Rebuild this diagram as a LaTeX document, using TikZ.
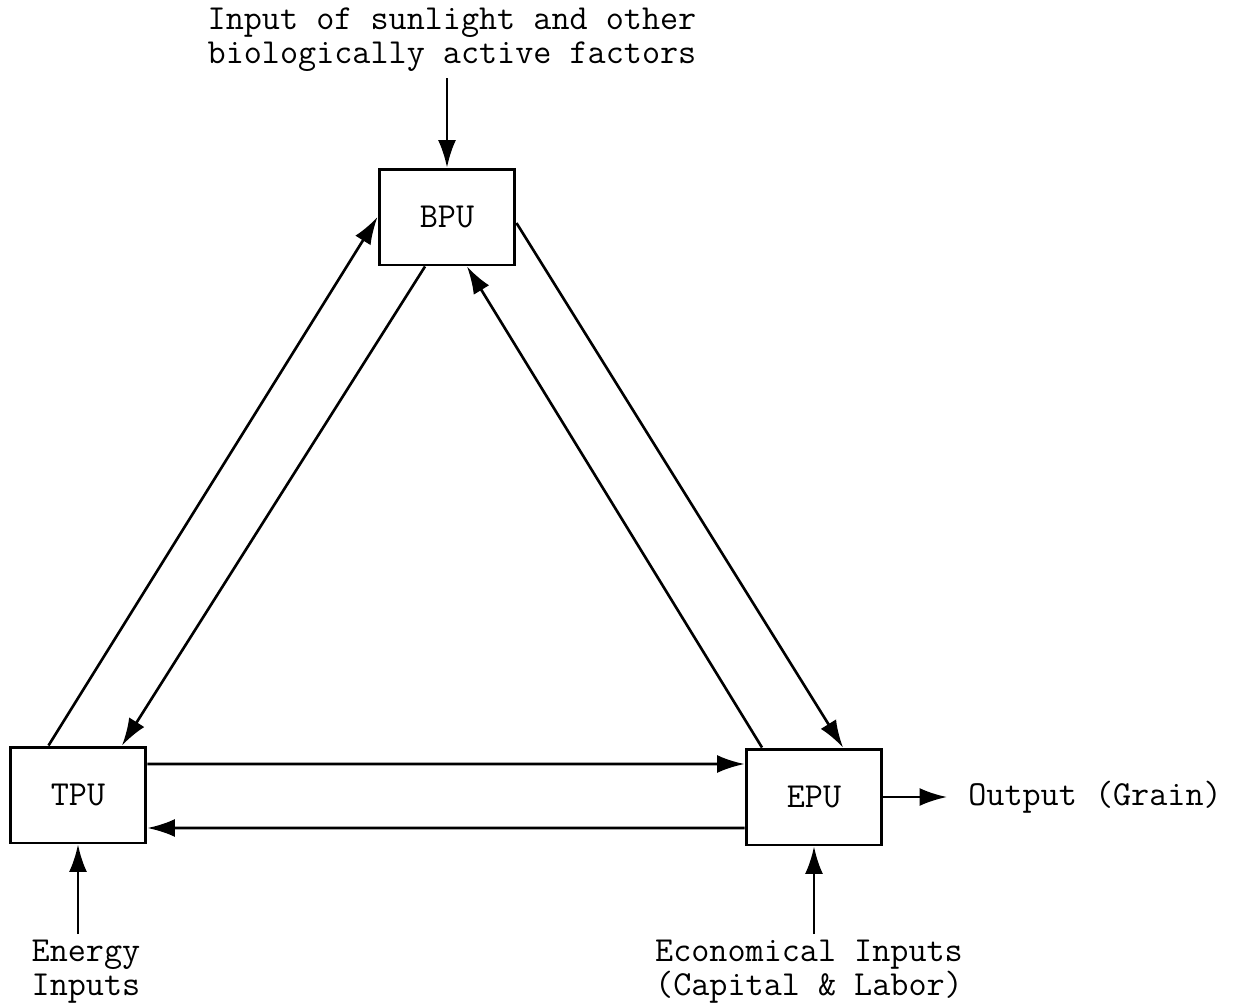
\documentclass[tikz,border=0pt]{standalone}
\usepackage{fontspec}
\usepackage{tikz}
\usetikzlibrary{arrows.meta}
\tikzset{
    Unit/.style = {draw,line width=1.7pt,minimum width=2.72cm,minimum height=1.92cm,
                   inner sep=0pt,font=\ttfamily\fontsize{20}{22}\selectfont},
    Label/.style = {align=center,font=\ttfamily\fontsize{20}{19.5}\selectfont},
    Flow/.style = {line width=1.5pt,-{Latex[length=0.55cm,width=0.36cm]}}
}
\begin{document}
\begin{tikzpicture}[x=0.02cm,y=-0.02cm]
        \useasboundingbox (0,0) rectangle (1242,1002);
        % the three units
        \node[Unit] (BPU) at (447,217) {BPU};
        \node[Unit] (TPU) at (78,795) {TPU};
        \node[Unit] (EPU) at (814,797) {EPU};
        % texts round them
        \node[Label] (sun) at (452,40) {Input of sunlight and other\\biologically active factors};
        \node[Label] (energy) at (86,972) {Energy\\Inputs};
        \node[Label] (econ) at (809,972) {Economical Inputs\\(Capital \& Labor)};
        \node[Label,anchor=west,inner sep=0pt] (out) at (968,797) {Output (Grain)};
        % flows between the units
        \draw[Flow] ([xshift=0.8cm]TPU.north west) -- (BPU.west);
        \draw[Flow] ([xshift=-0.44cm]BPU.south) -- ([xshift=0.88cm]TPU.north);
        \draw[Flow] ([xshift=-1.04cm]EPU.north) -- ([xshift=0.4cm]BPU.south);
        \draw[Flow] ([yshift=-0.12cm]BPU.east) -- ([xshift=0.58cm]EPU.north);
        \draw[Flow] ([yshift=0.62cm]TPU.east) -- ([yshift=0.66cm]EPU.west);
        \draw[Flow] ([yshift=-0.62cm]EPU.west) -- ([yshift=-0.66cm]TPU.east);
        % inputs and output
        \draw[Flow] (BPU.north |- sun.south) -- (BPU.north);
        \draw[Flow] (TPU.south |- energy.north) -- (TPU.south);
        \draw[Flow] (EPU.south |- econ.north) -- (EPU.south);
        \draw[Flow,shorten >=0.42cm] (EPU.east) -- (out.west);
\end{tikzpicture}
\end{document}
